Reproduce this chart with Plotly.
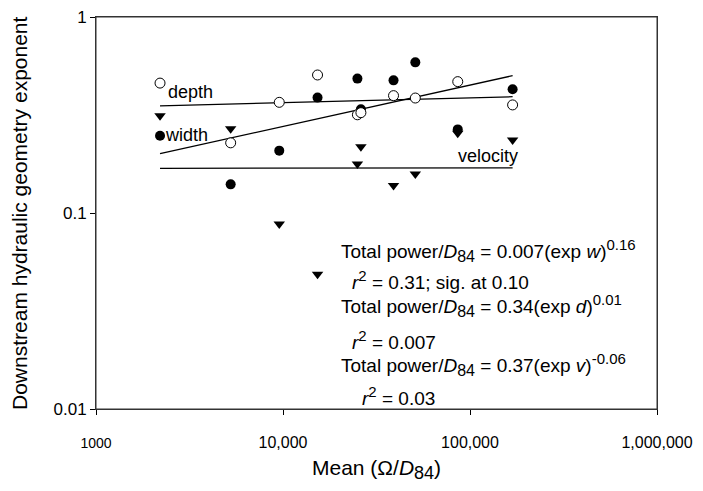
import plotly.graph_objects as go

# Mean total stream power / D84 for each reach
x_vals = [2200, 5250, 9550, 15300, 25000, 26100, 39000, 51000, 86000, 169000]
# Downstream hydraulic geometry exponents
width_exp = [0.248, 0.140, 0.208, 0.388, 0.485, 0.338, 0.475, 0.587, 0.267, 0.428]
depth_exp = [0.460, 0.228, 0.367, 0.506, 0.317, 0.325, 0.397, 0.386, 0.468, 0.356]
velocity_exp = [0.313, 0.269, 0.088, 0.0487, 0.178, 0.218, 0.138, 0.158, 0.255, 0.236]

# Regression lines (end points)
fit_x = [2200, 169000]
width_fit = [0.201, 0.502]
depth_fit = [0.352, 0.392]
velocity_fit = [0.169, 0.170]

x_tickvals = [1000, 10000, 100000, 1000000]
x_ticktext = ['<span style="font-size:14px">1000</span>', '10,000', '100,000', '1,000,000']
y_tickvals = [0.01, 0.1, 1]
y_ticktext = ['0.01', '0.1', '1']

FONT = "Liberation Sans, Arial, sans-serif"

fig = go.Figure()
for yf in (width_fit, depth_fit, velocity_fit):
    fig.add_trace(go.Scatter(x=fit_x, y=yf, mode="lines",
                             line=dict(color="black", width=1.3), showlegend=False,
                             hoverinfo="skip"))
fig.add_trace(go.Scatter(x=x_vals, y=width_exp, mode="markers", name="width",
                         marker=dict(symbol="circle", size=10, color="black",
                                     line=dict(color="black", width=0))))
fig.add_trace(go.Scatter(x=x_vals, y=depth_exp, mode="markers", name="depth",
                         marker=dict(symbol="circle", size=10, color="white",
                                     line=dict(color="black", width=1))))
fig.add_trace(go.Scatter(x=x_vals, y=velocity_exp, mode="markers", name="velocity",
                         marker=dict(symbol="triangle-down", size=10, color="black",
                                     line=dict(color="black", width=0))))

# page body has an 8px margin; compensate so plot area sits at screen 96..657 x 17..409
OFF = 8
W, H = 703 - OFF, 491 - OFF
L, R, T, B = 96 - OFF, 46, 17 - OFF, 82
SX0, SX1, SY0, SY1 = 96, 657, 17, 409

def px(x):
    return (x - SX0) / (SX1 - SX0)

def py(y):
    return (SY1 - y) / (SY1 - SY0)

def sub(t, s=16):
    return '<sub><span style="font-size:%dpx">%s</span></sub>' % (s, t)

def sup(t, s=15):
    return '<sup><span style="font-size:%dpx">%s</span></sup>' % (s, t)

ann = []
def add_text(text, x, y, size=19, xanchor="left"):
    ann.append(dict(text=text, x=px(x), y=py(y), xref="paper", yref="paper",
                    xanchor=xanchor, yanchor="middle", showarrow=False,
                    font=dict(family=FONT, size=size, color="black")))

add_text("depth", 166, 92, size=18)
add_text("width", 163, 135, size=18)
add_text("velocity", 456, 156, size=18)

add_text("Total power/<i>D</i>" + sub("84") + " = 0.007(exp <i>w</i>)" + sup("0.16"), 339, 250)
add_text("<i>r</i>" + sup("2") + " = 0.31; sig. at 0.10", 350, 280)
add_text("Total power/<i>D</i>" + sub("84") + " = 0.34(exp <i>d</i>)" + sup("0.01"), 339, 305)
add_text("<i>r</i>" + sup("2") + " = 0.007", 350, 340)
add_text("Total power/<i>D</i>" + sub("84") + " = 0.37(exp <i>v</i>)" + sup("-0.06"), 339, 364)
add_text("<i>r</i>" + sup("2") + " = 0.03", 360, 396)

# axis titles
ann.append(dict(text="Mean (Ω/<i>D</i>" + sub("84", 18) + ")", x=px(376), y=py(470), xref="paper",
                yref="paper", xanchor="center", yanchor="middle", showarrow=False,
                font=dict(family=FONT, size=21, color="black")))
ann.append(dict(text="Downstream hydraulic geometry exponent", x=px(19), y=py(213),
                xref="paper", yref="paper", xanchor="center", yanchor="middle",
                textangle=-90, showarrow=False,
                font=dict(family=FONT, size=21, color="black")))

fig.update_layout(
    width=W, height=H,
    margin=dict(l=L, r=R, t=T, b=B, autoexpand=False),
    paper_bgcolor="white", plot_bgcolor="white",
    showlegend=False,
    font=dict(family=FONT, color="black"),
    annotations=ann,
    shapes=[dict(type="rect", xref="paper", yref="paper", x0=0, y0=0, x1=1, y1=1,
                 line=dict(color="#333", width=1), layer="below")],
)
fig.update_xaxes(type="log", range=[3, 6], tickvals=x_tickvals, ticktext=x_ticktext,
                 ticks="outside", ticklen=5, tickcolor="black", showgrid=False,
                 zeroline=False, showline=True, linecolor="#333", linewidth=1,
                 mirror=True, tickfont=dict(family=FONT, size=16),
                 ticklabelstandoff=14, ticklabeloverflow="allow", automargin=False)
fig.update_yaxes(type="log", range=[-2, 0], tickvals=y_tickvals, ticktext=y_ticktext,
                 ticks="outside", ticklen=5, tickcolor="black", showgrid=False,
                 zeroline=False, showline=True, linecolor="#333", linewidth=1,
                 mirror=True, tickfont=dict(family=FONT, size=17),
                 ticklabeloverflow="allow", automargin=False)

fig.write_html("out.html")
